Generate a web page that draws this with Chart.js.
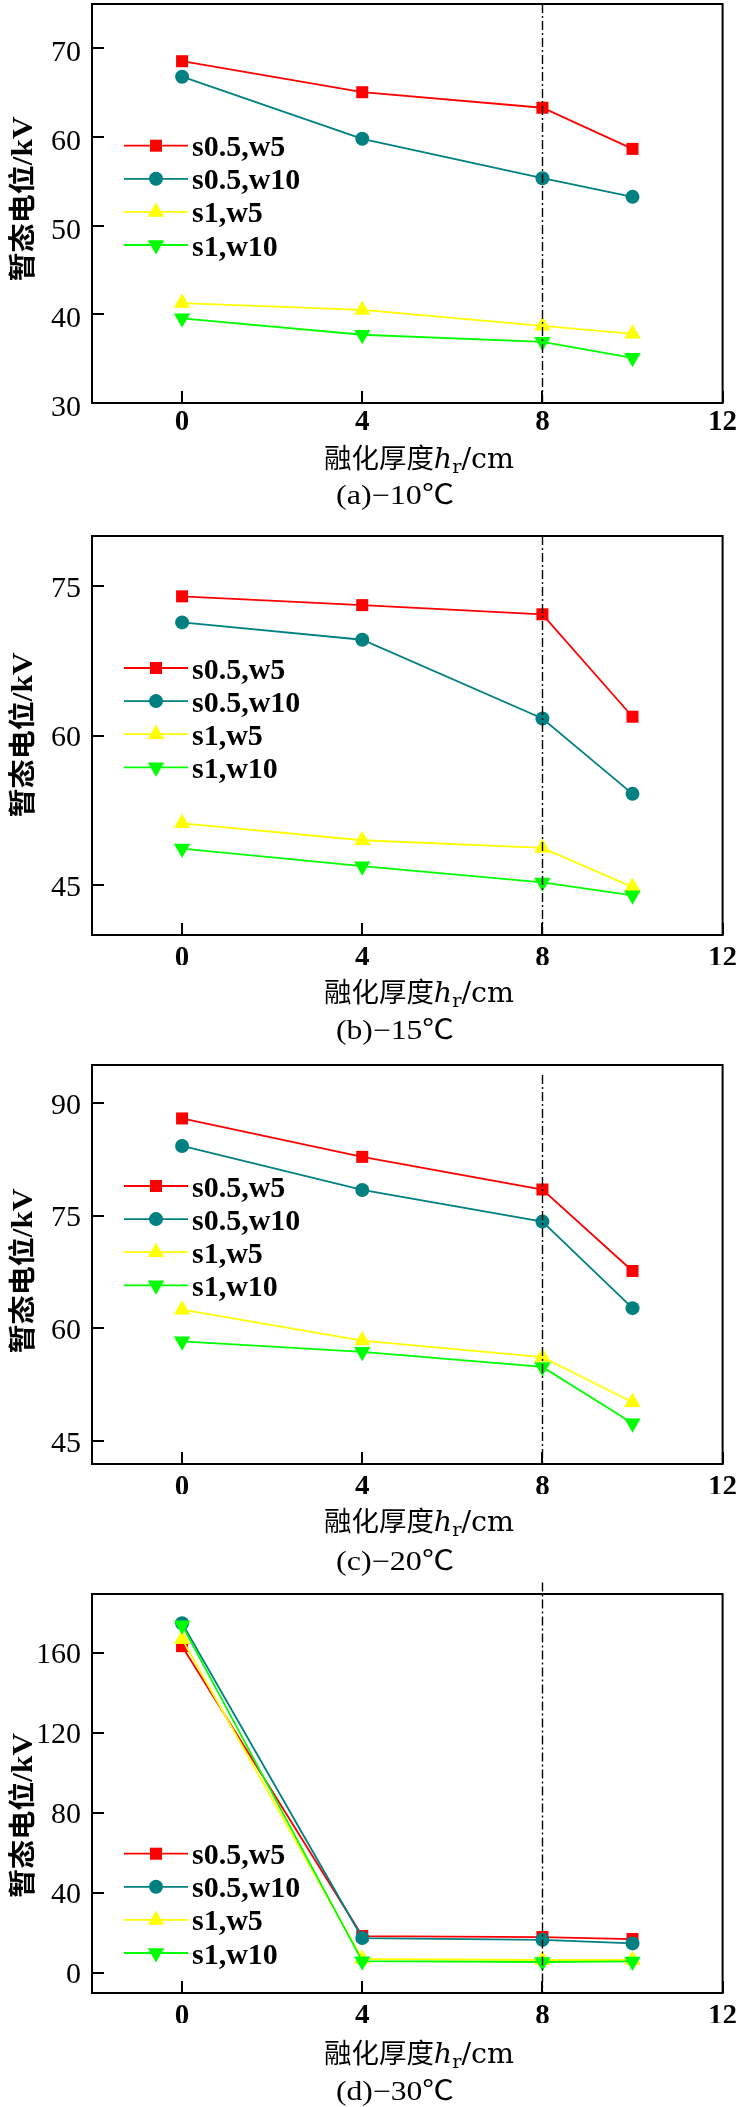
<!DOCTYPE html>
<html>
<head>
<meta charset="utf-8">
<script src="https://cdn.jsdelivr.net/npm/chart.js@4/dist/chart.umd.min.js"></script>
<style>
html,body{margin:0;padding:0;background:#fff;width:739px;height:2107px;overflow:hidden;position:relative;}
.p{position:absolute;left:0;width:739px;height:530px;}
canvas{display:block;}
</style>
</head>
<body>
<div class="p" id="w0"><canvas id="c0" width="739" height="530"></canvas></div>
<div class="p" id="w1"><canvas id="c1" width="739" height="530"></canvas></div>
<div class="p" id="w2"><canvas id="c2" width="739" height="530"></canvas></div>
<div class="p" id="w3"><canvas id="c3" width="739" height="530"></canvas></div>
<script>
// ---------------- data ----------------
const X_VALUES = [0, 4, 8, 10];
const X_TICKS = [0, 4, 8, 12];
const SERIES_NAMES = ['s0.5,w5', 's0.5,w10', 's1,w5', 's1,w10'];
const CAPTIONS = ['(a)−10℃', '(b)−15℃', '(c)−20℃', '(d)−30℃'];
const X_TITLE_CJK = '融化厚度';
const X_TITLE_VAR = 'h';
const X_TITLE_SUB = 'r';
const X_TITLE_UNIT = '/cm';
const Y_TITLE_CJK = '暂态电位';
const Y_TITLE_UNIT = '/kV';

const A_S05W5  = [68.55, 65.05, 63.3, 58.66];
const A_S05W10 = [66.8, 59.8, 55.35, 53.25];
const A_S1W5   = [41.27, 40.5, 38.7, 37.8];
const A_S1W10  = [39.55, 37.7, 36.9, 35.1];
const A_Y_TICKS = [30, 40, 50, 60, 70];

const B_S05W5  = [73.95, 73.07, 72.15, 61.88];
const B_S05W10 = [71.34, 69.6, 61.7, 54.15];
const B_S1W5   = [51.2, 49.5, 48.73, 44.8];
const B_S1W10  = [48.66, 46.9, 45.27, 43.98];
const B_Y_TICKS = [45, 60, 75];

const C_S05W5  = [87.9, 82.8, 78.46, 67.64];
const C_S05W10 = [84.25, 78.4, 74.2, 62.7];
const C_S1W5   = [62.5, 58.4, 56.2, 50.2];
const C_S1W10  = [58.3, 56.9, 54.9, 47.4];
const C_Y_TICKS = [45, 60, 75, 90];

const D_S05W5  = [163.5, 18.5, 18, 17];
const D_S05W10 = [175, 17.5, 16.6, 14.8];
const D_S1W5   = [167, 7, 6.5, 6.5];
const D_S1W10  = [174, 5.9, 5.5, 5.8];
const D_Y_TICKS = [0, 40, 80, 120, 160];

// ---------------- styles / layout ----------------
const STYLES = [
  {color: '#ff0000', pointStyle: 'rect', radius: 8.5, rotation: 0},
  {color: '#008080', pointStyle: 'circle', radius: 7, rotation: 0},
  {color: '#ffff00', pointStyle: 'triangle', radius: 9.5, rotation: 0},
  {color: '#00ff00', pointStyle: 'triangle', radius: 9.5, rotation: 180}
];
const CANVAS_H = 530, PLOT_TOP = 14, PLOT_H = 399, Y_AXIS_W = 92, RIGHT_PAD = 16.4, X_AXIS_H = 30;

const PANELS = [
  {top: -10, yMin: 30, yMax: 75, ticks: A_Y_TICKS, series: [A_S05W5, A_S05W10, A_S1W5, A_S1W10],
   legendY: 141.7, yTitleY: 195, yLabelOffset: 5, xLabelPad: 2.6, xTitleBase: 64.7, capBase: 100.7, vTop: 0},
  {top: 522, yMin: 40, yMax: 80, ticks: B_Y_TICKS, series: [B_S05W5, B_S05W10, B_S1W5, B_S1W10],
   legendY: 132, yTitleY: 199, yLabelOffset: 3, xLabelPad: 6, xTitleBase: 67, capBase: 104, vTop: 0},
  {top: 1051, yMin: 42, yMax: 95, ticks: C_Y_TICKS, series: [C_S05W5, C_S05W10, C_S1W5, C_S1W10],
   legendY: 121, yTitleY: 206, yLabelOffset: 3, xLabelPad: 6, xTitleBase: 67, capBase: 106, vTop: 10},
  {top: 1580, yMin: -10, yMax: 189.6, ticks: D_Y_TICKS, series: [D_S05W5, D_S05W10, D_S1W5, D_S1W10],
   legendY: 259.7, yTitleY: 221.5, yLabelOffset: 2, xLabelPad: 6, xTitleBase: 70, capBase: 106.7, vTop: -11.4}
];

function drawMarker(ctx, st, x, y) {
  const r = st.radius;
  ctx.beginPath();
  if (st.pointStyle === 'rect') {
    const s = Math.SQRT1_2 * r;
    ctx.rect(x - s, y - s, 2 * s, 2 * s);
  } else if (st.pointStyle === 'circle') {
    ctx.arc(x, y, r, 0, Math.PI * 2);
  } else {
    let rad = st.rotation * Math.PI / 180;
    ctx.moveTo(x + Math.sin(rad) * r, y - Math.cos(rad) * r);
    rad += 2 * Math.PI / 3;
    ctx.lineTo(x + Math.sin(rad) * r, y - Math.cos(rad) * r);
    rad += 2 * Math.PI / 3;
    ctx.lineTo(x + Math.sin(rad) * r, y - Math.cos(rad) * r);
    ctx.closePath();
  }
  ctx.fillStyle = st.color;
  ctx.fill();
}

function drawPieces(ctx, pieces, cx, baseY, targetW) {
  let total = 0;
  pieces.forEach(p => { ctx.font = p.font; p.w = ctx.measureText(p.t).width; total += p.w; });
  const sx = targetW / total;
  ctx.save();
  ctx.translate(cx, baseY);
  ctx.scale(sx, 1);
  let x = -total / 2;
  ctx.textBaseline = 'alphabetic';
  ctx.textAlign = 'left';
  ctx.fillStyle = '#000';
  pieces.forEach(p => { ctx.font = p.font; ctx.fillText(p.t, x, p.dy || 0); x += p.w; });
  ctx.restore();
}

function makePlugin(panel, idx) {
  return {
    id: 'decor' + idx,
    afterDatasetsDraw(chart) {
      const ctx = chart.ctx, a = chart.chartArea;
      const xs = chart.scales.x;
      const px = Math.round(xs.getPixelForValue(8)) + 0.5;
      ctx.save();
      ctx.strokeStyle = '#000';
      ctx.lineWidth = 1.4;
      ctx.setLineDash([9, 3, 2, 3]);
      ctx.beginPath();
      ctx.moveTo(px, a.top + panel.vTop);
      ctx.lineTo(px, a.bottom);
      ctx.stroke();
      ctx.restore();
    },
    afterDraw(chart) {
      const ctx = chart.ctx, a = chart.chartArea;
      const xs = chart.scales.x, ys = chart.scales.y;
      ctx.save();
      // frame
      ctx.strokeStyle = '#000';
      ctx.lineWidth = 2;
      ctx.strokeRect(a.left, a.top, a.right - a.left, a.bottom - a.top);
      // inward ticks
      ctx.beginPath();
      panel.ticks.forEach(v => {
        const y = Math.round(ys.getPixelForValue(v));
        ctx.moveTo(a.left, y); ctx.lineTo(a.left + 12, y);
      });
      X_TICKS.forEach(v => {
        const x = Math.round(xs.getPixelForValue(v));
        ctx.moveTo(x, a.bottom); ctx.lineTo(x, a.bottom - 12);
      });
      ctx.stroke();
      // legend
      for (let k = 0; k < 4; k++) {
        const st = STYLES[k];
        const y = a.top + panel.legendY + k * 33.1;
        ctx.strokeStyle = st.color;
        ctx.lineWidth = 1.8;
        ctx.beginPath();
        ctx.moveTo(124, y); ctx.lineTo(188, y);
        ctx.stroke();
        drawMarker(ctx, st, 156, y);
        ctx.fillStyle = '#000';
        ctx.font = 'bold 30px "Liberation Serif"';
        ctx.textAlign = 'left';
        ctx.textBaseline = 'alphabetic';
        ctx.fillText(SERIES_NAMES[k], 192, y + 10.5);
      }
      // x title
      drawPieces(ctx, [
        {t: X_TITLE_CJK, font: '27px "Noto Sans CJK SC"'},
        {t: X_TITLE_VAR, font: 'italic 28px "DejaVu Serif"'},
        {t: X_TITLE_SUB, font: '19px "DejaVu Serif"', dy: 5},
        {t: X_TITLE_UNIT, font: '28px "DejaVu Serif"'}
      ], 419, a.bottom + panel.xTitleBase, 190);
      // caption
      drawPieces(ctx, [
        {t: CAPTIONS[idx], font: '27px "Liberation Serif", "Noto Sans CJK SC"'}
      ], 395, a.bottom + panel.capBase, 118);
      // y title (rotated)
      ctx.save();
      ctx.translate(21, a.top + panel.yTitleY);
      ctx.rotate(-Math.PI / 2);
      drawPieces(ctx, [
        {t: Y_TITLE_CJK, font: 'bold 27px "Noto Sans CJK SC"'},
        {t: Y_TITLE_UNIT, font: 'bold 29px "Liberation Serif"'}
      ], 0, 11, 165);
      ctx.restore();
      ctx.restore();
    }
  };
}

Chart.defaults.font.family = '"Liberation Serif"';
Chart.defaults.color = '#000';

PANELS.forEach((panel, idx) => {
  document.getElementById('w' + idx).style.top = panel.top + 'px';
  const datasets = panel.series.map((vals, k) => ({
    label: SERIES_NAMES[k],
    data: X_VALUES.map((x, j) => ({x: x, y: vals[j]})),
    borderColor: STYLES[k].color,
    backgroundColor: STYLES[k].color,
    pointBackgroundColor: STYLES[k].color,
    pointBorderColor: STYLES[k].color,
    pointBorderWidth: 0,
    borderWidth: 1.8,
    pointStyle: STYLES[k].pointStyle,
    pointRadius: STYLES[k].radius,
    pointRotation: STYLES[k].rotation,
    pointHoverRadius: STYLES[k].radius,
    tension: 0,
    fill: false,
    order: 4 - k,
    clip: false
  }));
  new Chart(document.getElementById('c' + idx), {
    type: 'line',
    data: {datasets},
    options: {
      responsive: false,
      animation: false,
      events: [],
      layout: {padding: {left: 0, top: PLOT_TOP, right: RIGHT_PAD, bottom: CANVAS_H - PLOT_TOP - PLOT_H - X_AXIS_H}},
      plugins: {legend: {display: false}, tooltip: {enabled: false}, title: {display: false}},
      scales: {
        x: {
          type: 'linear', min: -2, max: 12,
          grid: {display: false, drawTicks: false},
          border: {display: false},
          afterBuildTicks: s => { s.ticks = X_TICKS.map(v => ({value: v})); },
          afterFit: s => { s.height = X_AXIS_H; s.paddingLeft = 0; s.paddingRight = 0; },
          ticks: {font: {size: 29, weight: 'bold', family: '"Liberation Serif"'}, color: '#000',
                  padding: panel.xLabelPad, maxRotation: 0, autoSkip: false}
        },
        y: {
          type: 'linear', min: panel.yMin, max: panel.yMax,
          grid: {display: false, drawTicks: false},
          border: {display: false},
          afterBuildTicks: s => { s.ticks = panel.ticks.map(v => ({value: v})); },
          afterFit: s => { s.width = Y_AXIS_W; s.paddingTop = 0; s.paddingBottom = 0; },
          ticks: {font: {size: 30, family: '"Liberation Serif"'}, color: '#000',
                  padding: 11, labelOffset: panel.yLabelOffset, autoSkip: false}
        }
      }
    },
    plugins: [makePlugin(panel, idx)]
  });
});
</script>
</body>
</html>
